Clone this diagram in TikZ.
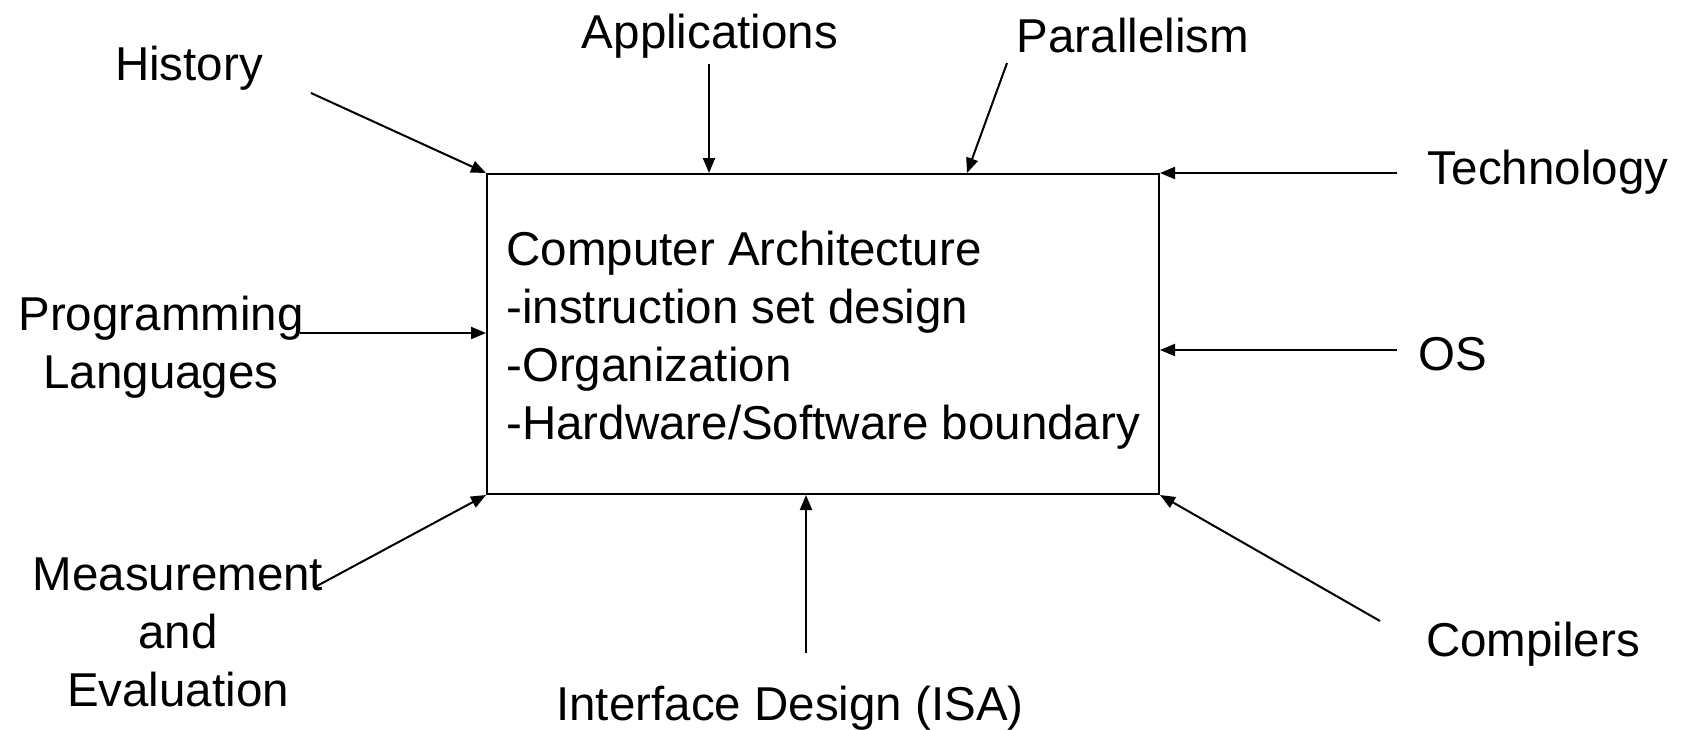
\documentclass[tikz,border=0pt]{standalone}
\usepackage{fontspec}
\setmainfont{Liberation Sans}
\usetikzlibrary{arrows.meta}
\begin{document}
\begin{tikzpicture}[x=0.5pt,y=-0.5pt,
  lbl/.style={inner sep=0pt, align=center, font=\fontsize{23.75}{29}\selectfont},
  arr/.style={line width=1pt, -{Triangle[length=7.5pt,width=6pt]}},
  mainbox/.style={draw, line width=1pt, anchor=north west, minimum width=336pt,
    minimum height=160pt, inner sep=0pt},
  boxtext/.style={anchor=west, inner sep=0pt, align=left,
    font=\fontsize{23.75}{29}\selectfont}]
\useasboundingbox (0,0) rectangle (1681,729);

% central box and its contents
\node[mainbox] (arch) at (486,173) {};
\node[boxtext] (archtext) at ([xshift=10pt,yshift=-3pt]arch.west)
  {Computer Architecture\\-instruction set design\\-Organization\\-Hardware/Software boundary};

% surrounding labels
\node[lbl] (hist) at (189,68) {History};
\node[lbl] (apps) at (710,36) {Applications};
\node[lbl] (par) at (1133,36) {Parallelism};
\node[lbl] (tech) at (1548,172) {Technology};
\node[lbl] (os) at (1453,354) {OS};
\node[lbl] (prog) at (161,347) {Programming\\Languages};
\node[lbl] (meas) at (178,632) {Measurement\\and\\Evaluation};
\node[lbl] (comp) at (1533,644) {Compilers};
\node[lbl] (isa) at (790,708) {Interface Design (ISA)};

% arrow tails
\coordinate (hist-s) at (311,93);
\coordinate (apps-s) at (709,64);
\coordinate (par-s) at (1007,63);
\coordinate (par-e) at (967,173);
\coordinate (tech-s) at (1397,173);
\coordinate (os-s) at (1397,350);
\coordinate (prog-s) at (300,333);
\coordinate (meas-s) at (315,587);
\coordinate (comp-s) at (1380,621);
\coordinate (isa-s) at (806,653);

% connectors into the box
\draw[arr] (hist-s) -- (arch.north west);
\draw[arr] (apps-s) -- (apps-s |- arch.north);
\draw[arr] (par-s) -- (par-e);
\draw[arr] (tech-s) -- (arch.north east);
\draw[arr] (os-s) -- (os-s -| arch.east);
\draw[arr] (prog-s) -- (prog-s -| arch.west);
\draw[arr] (meas-s) -- (arch.south west);
\draw[arr] (comp-s) -- (arch.south east);
\draw[arr] (isa-s) -- (isa-s |- arch.south);
\end{tikzpicture}
\end{document}
